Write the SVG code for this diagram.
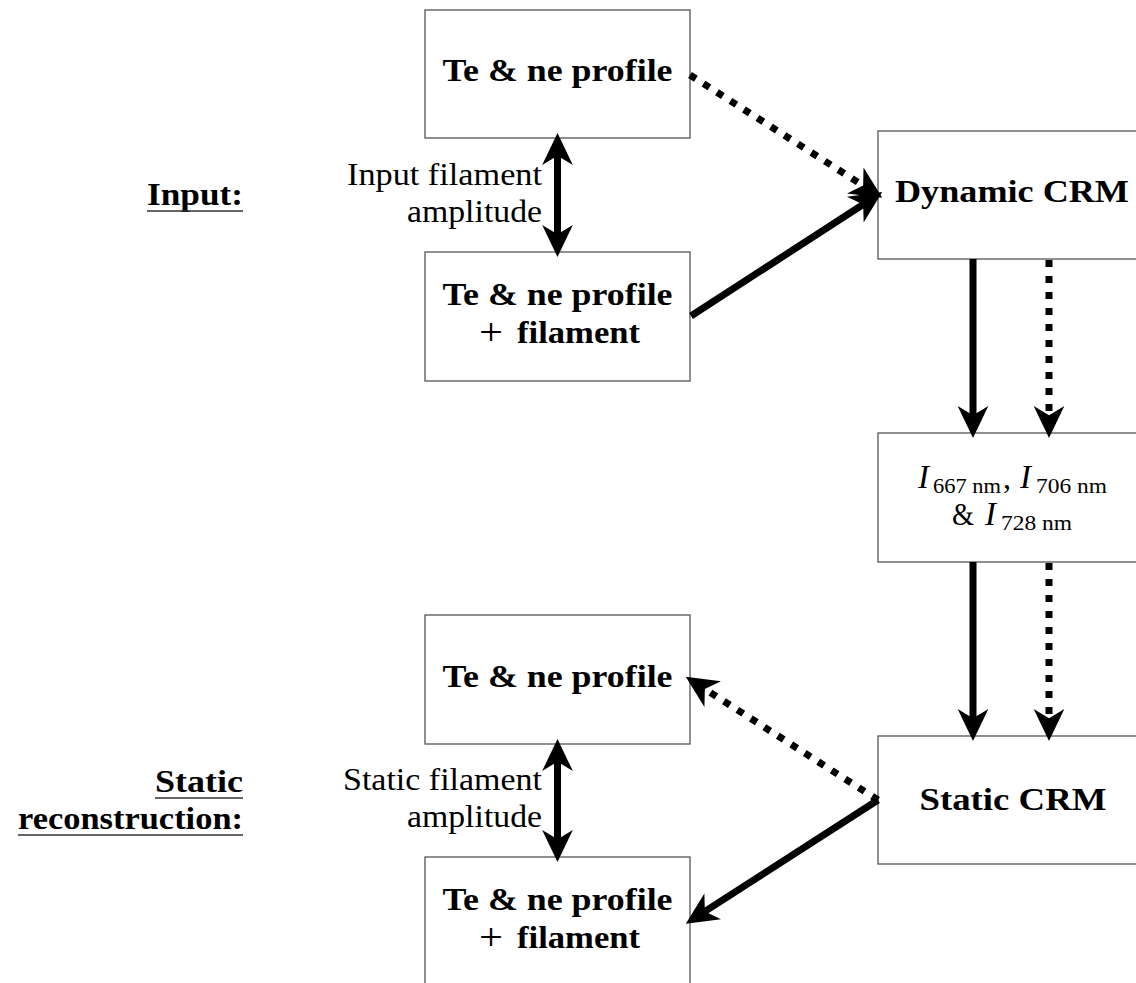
<svg xmlns="http://www.w3.org/2000/svg" width="1136" height="983" viewBox="0 0 1136 983">
<defs>
<style>
.box{fill:#fff;stroke:#555;stroke-width:1.3}
.b{font-family:"Liberation Serif",serif;font-weight:bold;font-size:32px;fill:#000}
.r{font-family:"Liberation Serif",serif;font-size:32px;fill:#000}
.plus{font-family:"Liberation Serif",serif;font-size:38px;fill:#000}
.sub{font-family:"Liberation Serif",serif;font-size:21px;fill:#000}
.it{font-family:"Liberation Serif",serif;font-style:italic;font-size:33px;fill:#000}
.solid{stroke:#000;stroke-width:7;fill:none;marker-end:url(#ah)}
.dot{stroke:#000;stroke-width:7;fill:none;stroke-dasharray:7 9;marker-end:url(#ah)}
.dbl{stroke:#000;stroke-width:7;fill:none;marker-end:url(#ah);marker-start:url(#ah)}
.ul{stroke:#333;stroke-width:1.4}
</style>
<marker id="ah" markerUnits="userSpaceOnUse" markerWidth="40" markerHeight="40" viewBox="-12 -14 30 28" refX="0" refY="0" orient="auto-start-reverse">
<path d="M15,0 L-9,-11.5 L-2,0 L-9,11.5 Z" fill="#000"/>
</marker>
</defs>

<g id="labels">
<text class="b" x="243" y="205" text-anchor="end" textLength="96" lengthAdjust="spacingAndGlyphs">Input:</text>
<line class="ul" x1="147" y1="211" x2="243" y2="211"/>
<text class="b" x="243" y="792" text-anchor="end" textLength="88" lengthAdjust="spacingAndGlyphs">Static</text>
<line class="ul" x1="155" y1="798" x2="243" y2="798"/>
<text class="b" x="243" y="829" text-anchor="end" textLength="225" lengthAdjust="spacingAndGlyphs">reconstruction:</text>
<line class="ul" x1="18" y1="835" x2="243" y2="835"/>
<text class="r" x="542" y="185" text-anchor="end" textLength="195" lengthAdjust="spacingAndGlyphs">Input filament</text>
<text class="r" x="542" y="222" text-anchor="end" textLength="135" lengthAdjust="spacingAndGlyphs">amplitude</text>
<text class="r" x="542" y="790" text-anchor="end" textLength="199" lengthAdjust="spacingAndGlyphs">Static filament</text>
<text class="r" x="542" y="827" text-anchor="end" textLength="135" lengthAdjust="spacingAndGlyphs">amplitude</text>
</g>

<g id="in_profile">
<rect class="box" x="425" y="10" width="265" height="128"/>
<text class="b" x="557.5" y="81" text-anchor="middle" textLength="230" lengthAdjust="spacingAndGlyphs">Te &amp; ne profile</text>
</g>
<g id="in_filament">
<rect class="box" x="425" y="252" width="265" height="129"/>
<text class="b" x="557.5" y="305" text-anchor="middle" textLength="230" lengthAdjust="spacingAndGlyphs">Te &amp; ne profile</text>
<text class="plus" x="479" y="345" textLength="24" lengthAdjust="spacingAndGlyphs">+</text>
<text class="b" x="517" y="343" textLength="123" lengthAdjust="spacingAndGlyphs">filament</text>
</g>
<g id="dynamic_crm">
<rect class="box" x="878" y="131" width="268" height="128"/>
<text class="b" x="1012" y="202" text-anchor="middle" textLength="234" lengthAdjust="spacingAndGlyphs">Dynamic CRM</text>
</g>
<g id="intensities">
<rect class="box" x="878" y="433" width="268" height="129"/>
<text class="it" x="918" y="488">I</text>
<text class="sub" x="933" y="493" textLength="68" lengthAdjust="spacingAndGlyphs">667 nm</text>
<text class="r" x="1003" y="488">,</text>
<text class="it" x="1020" y="488">I</text>
<text class="sub" x="1036" y="493" textLength="71" lengthAdjust="spacingAndGlyphs">706 nm</text>
<text class="r" x="952" y="525" textLength="22" lengthAdjust="spacingAndGlyphs">&amp;</text>
<text class="it" x="985" y="525">I</text>
<text class="sub" x="1001" y="530" textLength="71" lengthAdjust="spacingAndGlyphs">728 nm</text>
</g>
<g id="static_crm">
<rect class="box" x="878" y="736" width="268" height="128"/>
<text class="b" x="1013" y="810" text-anchor="middle" textLength="187" lengthAdjust="spacingAndGlyphs">Static CRM</text>
</g>
<g id="out_profile">
<rect class="box" x="425" y="615" width="265" height="129"/>
<text class="b" x="557.5" y="687" text-anchor="middle" textLength="230" lengthAdjust="spacingAndGlyphs">Te &amp; ne profile</text>
</g>
<g id="out_filament">
<rect class="box" x="425" y="857" width="265" height="130"/>
<text class="b" x="557.5" y="910" text-anchor="middle" textLength="230" lengthAdjust="spacingAndGlyphs">Te &amp; ne profile</text>
<text class="plus" x="479" y="950" textLength="24" lengthAdjust="spacingAndGlyphs">+</text>
<text class="b" x="517" y="948" textLength="123" lengthAdjust="spacingAndGlyphs">filament</text>
</g>

<g id="connectors">
<line class="dot" x1="690" y1="75" x2="865.4" y2="187"/>
<line class="solid" x1="691" y1="316" x2="865.4" y2="203"/>
<line class="dbl" x1="557.5" y1="153" x2="557.5" y2="237"/>
<line class="solid" x1="973" y1="259" x2="973" y2="418"/>
<line class="dot" x1="1049" y1="260" x2="1049" y2="418"/>
<line class="solid" x1="973" y1="562" x2="973" y2="721"/>
<line class="dot" x1="1049" y1="563" x2="1049" y2="721"/>
<line class="dot" x1="878" y1="800" x2="702.6" y2="687.6"/>
<line class="solid" x1="878" y1="800" x2="702.6" y2="912.9"/>
<line class="dbl" x1="557.5" y1="759" x2="557.5" y2="842"/>
</g>
</svg>
